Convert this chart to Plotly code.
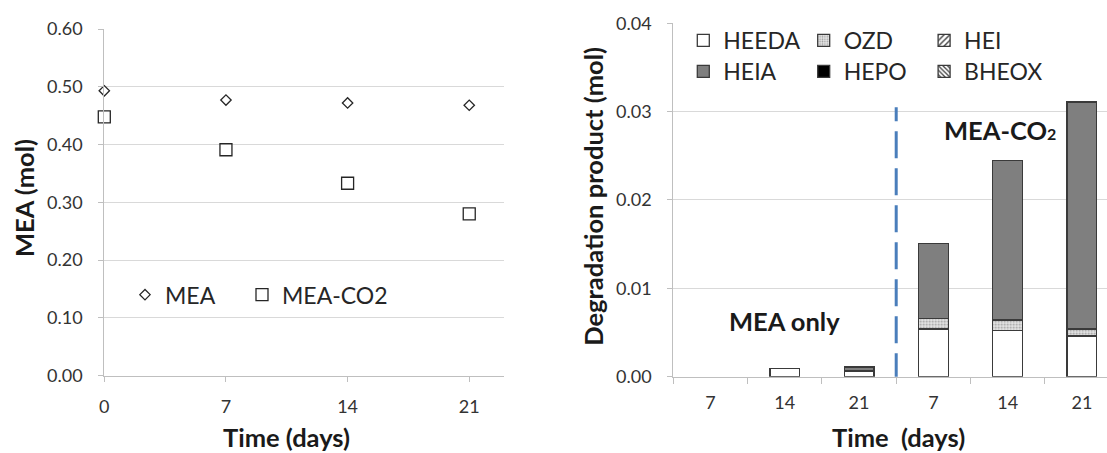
import plotly.graph_objects as go

# ---------------- data ----------------
days_left = [0, 7, 14, 21]
mea_mol = [0.493, 0.477, 0.472, 0.468]
mea_co2_mol = [0.448, 0.391, 0.333, 0.280]

groups = ["MEA 7", "MEA 14", "MEA 21", "CO2 7", "CO2 14", "CO2 21"]
group_labels = ["7", "14", "21", "7", "14", "21"]
heeda = [None, 0.0009, 0.00065, 0.0054, 0.0052, 0.0046]
ozd = [None, None, None, 0.0012, 0.0012, 0.0008]
hei = [None, None, None, None, None, None]
heia = [None, None, 0.00045, 0.0085, 0.0181, 0.0257]
hepo = [None, None, None, None, None, None]
bheox = [None, None, None, None, None, None]

left_ticks = [0, 7, 14, 21]
separator_top = 0.0305

FONT = "Lato"
W, H = 1107, 453

fig = go.Figure()

mk_line = dict(color="#262626", width=1.3)
fig.add_trace(go.Scatter(x=days_left, y=mea_mol, mode="markers", name="MEA", showlegend=True,
                         marker=dict(symbol="diamond", size=8, color="white", line=mk_line),
                         cliponaxis=False, legend="legend", xaxis="x", yaxis="y"))
fig.add_trace(go.Scatter(x=days_left, y=mea_co2_mol, mode="markers", name="MEA-CO2", showlegend=True,
                         marker=dict(symbol="square", size=12, color="white", line=mk_line),
                         cliponaxis=False, legend="legend4", xaxis="x", yaxis="y"))

bar_line = dict(color="#3a3a3a", width=1.3)
series = [
    ("HEEDA", heeda, dict(color="white"), "legend2"),
    ("OZD", ozd, dict(color="#d4d4d4", pattern=dict(shape=".", fgcolor="#9a9a9a", bgcolor="#e6e6e6", size=3, solidity=0.3)), "legend2"),
    ("HEI", hei, dict(color="white", pattern=dict(shape="/", fgcolor="#404040", bgcolor="white", size=5, solidity=0.35)), "legend2"),
    ("HEIA", heia, dict(color="#7f7f7f"), "legend3"),
    ("HEPO", hepo, dict(color="black"), "legend3"),
    ("BHEOX", bheox, dict(color="white", pattern=dict(shape="\\", fgcolor="#404040", bgcolor="white", size=4, solidity=0.4)), "legend3"),
]
for name, vals, mk, lg in series:
    mk = dict(mk)
    mk["line"] = bar_line
    fig.add_trace(go.Bar(x=groups, y=vals, name=name, marker=mk, width=0.4, showlegend=True,
                         legend=lg, xaxis="x2", yaxis="y2"))

grid = "#d9d9d9"
axis_c = "#bfbfbf"
tick_font = dict(family=FONT, size=18, color="#333333")

# plot areas in pixels
L_x0, L_x1, L_ytop, L_ybot = 104.3, 504.0, 29.0, 375.6
R_x0, R_x1, R_ytop, R_ybot = 673.3, 1107.0, 23.2, 376.7

legend_font = dict(family=FONT, size=23, color="#262626")
leg_common = dict(orientation="h", xanchor="left", yanchor="middle", bgcolor="rgba(0,0,0,0)",
                  font=legend_font, traceorder="normal", borderwidth=0, visible=True)
fig.update_layout(
    width=W, height=H, template="none", showlegend=True,
    paper_bgcolor="white", plot_bgcolor="white",
    margin=dict(l=0, r=0, t=0, b=0, autoexpand=False),
    font=dict(family=FONT, color="#262626"),
    barmode="stack", bargap=0.6,
    xaxis=dict(domain=[L_x0 / W, L_x1 / W], range=[0, 23], tickmode="array", tickvals=left_ticks,
               showgrid=False, zeroline=False, showline=True, linecolor=axis_c, linewidth=1,
               ticks="outside", ticklen=5, tickcolor=axis_c, tickfont=tick_font,
               ticklabelstandoff=10, anchor="y"),
    yaxis=dict(domain=[1 - L_ybot / H, 1 - L_ytop / H], range=[0, 0.6], dtick=0.1, tickformat=".2f",
               showgrid=True, gridcolor=grid, gridwidth=1, zeroline=False,
               showline=True, linecolor=axis_c, linewidth=1,
               ticks="outside", ticklen=5, tickcolor=axis_c, tickfont=tick_font,
               ticklabelstandoff=12, anchor="x"),
    xaxis2=dict(domain=[R_x0 / W, R_x1 / W], type="category", range=[-0.5, 5.337],
                tickmode="array", tickvals=groups, ticktext=group_labels, tickson="boundaries",
                showgrid=False, zeroline=False, showline=True, linecolor=axis_c, linewidth=1,
                ticks="outside", ticklen=6, tickcolor=axis_c, tickfont=tick_font,
                ticklabelstandoff=10, anchor="y2"),
    yaxis2=dict(domain=[1 - R_ybot / H, 1 - R_ytop / H], range=[0, 0.04], dtick=0.01, tickformat=".2f",
                showgrid=True, gridcolor=grid, gridwidth=1, zeroline=False,
                showline=True, linecolor=axis_c, linewidth=1,
                ticks="outside", ticklen=5, tickcolor=axis_c, tickfont=tick_font,
                ticklabelstandoff=12, anchor="x2"),
    legend=dict(x=(145 - 20) / W, y=1 - 294.7 / H, **leg_common),
    legend4=dict(x=(262 - 20) / W, y=1 - 294.7 / H, **leg_common),
    legend2=dict(x=(703.3 - 20) / W, y=1 - 40.5 / H, entrywidth=75.4, entrywidthmode="pixels", **leg_common),
    legend3=dict(x=(703.3 - 20) / W, y=1 - 71.5 / H, entrywidth=75.4, entrywidthmode="pixels", **leg_common),
)

# separator between the two groups (category boundary)
boundary = groups.index("CO2 7") - 0.5
fig.add_shape(type="line", xref="x2", yref="y2", x0=boundary, x1=boundary, y0=-0.0004, y1=separator_top,
              line=dict(color="#4a7ebb", width=3, dash="27px,10px"))

title_font = dict(family=FONT, size=25.5, color="#1a1a1a")
ann = [
    dict(text="<b>MEA (mol)</b>", x=24 / W, y=1 - 198 / H, textangle=-90),
    dict(text="<b>Time (days)</b>", x=286.7 / W, y=1 - 437 / H),
    dict(text="<b>Degradation product (mol)</b>", x=592.8 / W, y=1 - 196 / H, textangle=-90),
    dict(text="<b>Time  (days)</b>", x=898.7 / W, y=1 - 437 / H),
]
for a in ann:
    fig.add_annotation(xref="paper", yref="paper", xanchor="center", yanchor="middle",
                       showarrow=False, font=title_font, **a)

fig.add_annotation(xref="x2", yref="y2", x="MEA 14", y=0.0063, text="<b>MEA only</b>",
                   showarrow=False, xanchor="center", yanchor="middle", font=title_font)
fig.add_annotation(xref="x2", yref="y2", x=3.9, y=0.0279,
                   text="<b>MEA-CO<span style='font-size:16px'>2</span></b>",
                   showarrow=False, xanchor="center", yanchor="middle", font=title_font)

fig.write_html("out.html", config={"displayModeBar": False},
               post_script="document.body.style.margin='0';")
